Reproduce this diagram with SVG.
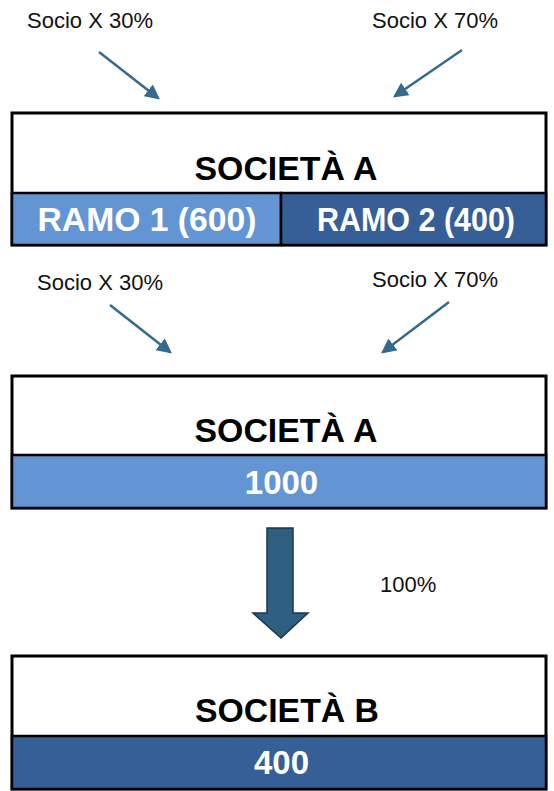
<svg xmlns="http://www.w3.org/2000/svg" width="554" height="791" viewBox="0 0 554 791">
<style>
.lbl{font-family:"Liberation Sans",Arial,Helvetica,sans-serif;font-size:22px;fill:#111}
.ttl{font-family:"Liberation Sans",Arial,Helvetica,sans-serif;font-size:33px;font-weight:bold;fill:#000;text-anchor:middle}
.val{font-family:"Liberation Sans",Arial,Helvetica,sans-serif;font-size:33px;font-weight:bold;fill:#fff;text-anchor:middle}
.box{fill:#fff;stroke:#000;stroke-width:3}
.light{fill:#6395d5;stroke:#000;stroke-width:2.5}
.dark{fill:#365f98;stroke:#000;stroke-width:2.5}
.conn{stroke:#336a8e;stroke-width:2.5;fill:none}
</style>
<defs>
<marker id="ah" markerWidth="6" markerHeight="6" refX="5" refY="3" orient="auto" markerUnits="strokeWidth">
<path d="M0,0 L6,3 L0,6 z" fill="#336a8e"/>
</marker>
</defs>
<rect width="554" height="791" fill="#fff"/>
<g id="labels">
<text class="lbl" x="27" y="28">Socio X 30%</text>
<text class="lbl" x="372" y="28">Socio X 70%</text>
<text class="lbl" x="37" y="290">Socio X 30%</text>
<text class="lbl" x="372" y="287">Socio X 70%</text>
<text class="lbl" x="380" y="592">100%</text>
</g>
<g id="connectors">
<line class="conn" x1="99" y1="52" x2="158" y2="98" marker-end="url(#ah)"/>
<line class="conn" x1="462" y1="50" x2="395" y2="96" marker-end="url(#ah)"/>
<line class="conn" x1="110" y1="305" x2="170" y2="352" marker-end="url(#ah)"/>
<line class="conn" x1="449" y1="302" x2="383" y2="352" marker-end="url(#ah)"/>
<path d="M267,528 L293,528 L293,613 L308,613 L281,638 L253,613 L267,613 Z" fill="#2f5f80" stroke="#1d3549" stroke-width="1.5"/>
</g>
<g id="societa-a-1">
<rect class="box" x="12" y="113" width="534" height="132"/>
<text class="ttl" x="286" y="180" textLength="183" lengthAdjust="spacingAndGlyphs">SOCIETÀ A</text>
</g>
<g id="ramo-1">
<rect class="light" x="12" y="193" width="269" height="52"/>
<text class="val" x="147" y="231" textLength="219" lengthAdjust="spacingAndGlyphs">RAMO 1 (600)</text>
</g>
<g id="ramo-2">
<rect class="dark" x="281" y="193" width="265" height="52"/>
<text class="val" x="416" y="231" font-size="31" textLength="198" lengthAdjust="spacingAndGlyphs">RAMO 2 (400)</text>
</g>
<g id="societa-a-2">
<rect class="box" x="12" y="376" width="534" height="132"/>
<text class="ttl" x="286" y="442" textLength="183" lengthAdjust="spacingAndGlyphs">SOCIETÀ A</text>
<rect class="light" x="12" y="455" width="534" height="53"/>
<text class="val" x="281.5" y="494">1000</text>
</g>
<g id="societa-b">
<rect class="box" x="12" y="656" width="534" height="133"/>
<text class="ttl" x="287" y="722" textLength="184" lengthAdjust="spacingAndGlyphs">SOCIETÀ B</text>
<rect class="dark" x="12" y="736" width="534" height="53"/>
<text class="val" x="281.5" y="774">400</text>
</g>
</svg>
